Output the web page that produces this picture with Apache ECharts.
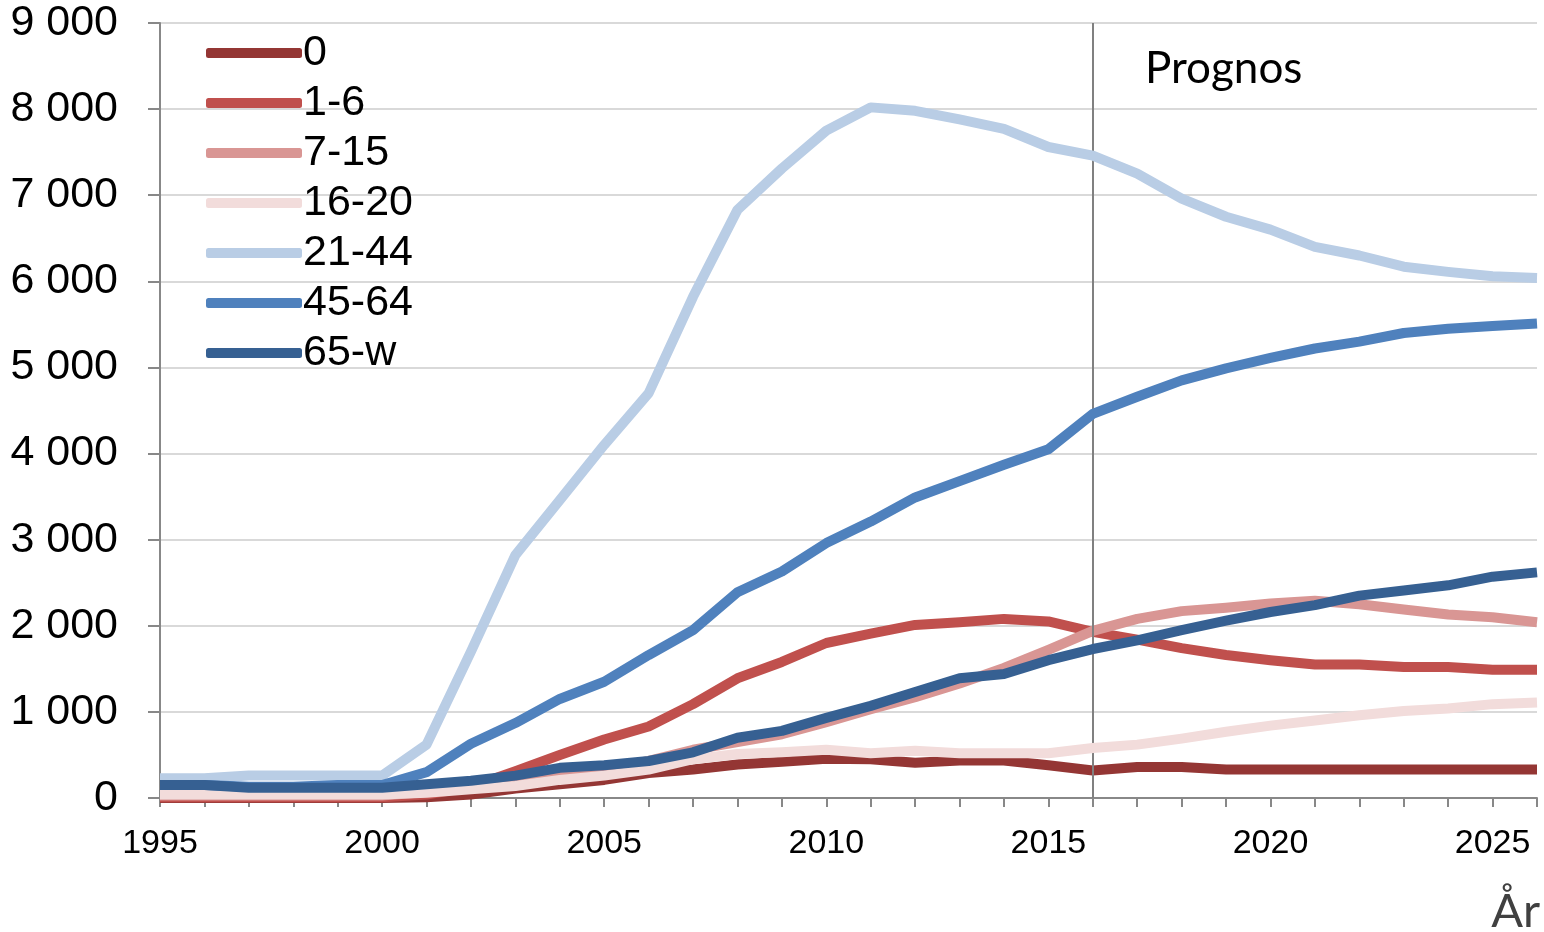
<!DOCTYPE html>
<html><head><meta charset="utf-8">
<script src="https://cdn.jsdelivr.net/npm/echarts@6/dist/echarts.min.js"></script>
<style>html,body{margin:0;padding:0;background:#fff}#c{width:1544px;height:932px}</style>
</head><body><div id="c"></div>
<script>
const years = [1995,1996,1997,1998,1999,2000,2001,2002,2003,2004,2005,2006,2007,2008,2009,2010,2011,2012,2013,2014,2015,2016,2017,2018,2019,2020,2021,2022,2023,2024,2025,2026];
const seriesNames = ['0','1-6','7-15','16-20','21-44','45-64','65-w'];
const s0    = [0,0,0,0,0,0,10,40,110,160,210,290,330,390,420,455,450,410,435,435,380,320,360,360,330,330,330,330,330,330,330,330];
const s1_6  = [10,10,10,10,10,10,40,130,310,500,680,830,1090,1390,1580,1800,1910,2010,2040,2080,2050,1930,1840,1740,1660,1600,1550,1550,1520,1520,1490,1490];
const s7_15 = [30,30,30,30,30,30,70,120,190,260,330,430,560,650,740,880,1030,1170,1330,1510,1720,1940,2080,2170,2210,2260,2290,2250,2190,2130,2100,2040];
const s16_20= [40,40,40,40,40,40,60,100,140,210,260,330,450,510,530,560,520,550,520,520,520,580,620,690,770,840,900,960,1010,1040,1090,1110];
const s21_44= [230,230,260,260,260,260,620,1700,2820,3460,4100,4700,5820,6830,7310,7750,8020,7980,7880,7770,7560,7460,7250,6960,6750,6600,6400,6300,6170,6110,6060,6040];
const s45_64= [150,150,130,130,150,150,300,630,870,1150,1350,1660,1950,2390,2630,2960,3210,3490,3680,3870,4050,4460,4660,4850,4990,5110,5220,5300,5400,5450,5480,5510];
const s65w  = [150,150,120,120,120,120,160,200,260,350,380,430,530,700,780,930,1070,1230,1390,1440,1600,1730,1830,1950,2060,2160,2240,2350,2410,2470,2570,2620];
const prognosYear = 2016;
const colors = ['#943634','#C0504D','#D99694','#F2DCDB','#B9CDE5','#4F81BD','#366092'];
const allData = [s0,s1_6,s7_15,s16_20,s21_44,s45_64,s65w];

const fmt = v => String(v).replace(/\B(?=(\d{3})+(?!\d))/g, ' ');
const chart = echarts.init(document.getElementById('c'));
const series = seriesNames.map((n,i)=>({
  name:n, type:'line', showSymbol:false, symbol:'none',
  data: years.map((y,k)=>[y, allData[i][k]]),
  lineStyle:{color:colors[i], width:10, join:'round'},
  itemStyle:{color:colors[i]},
  z: 2+i,
  animation:false,
  markLine: i===0 ? {silent:true, symbol:'none', label:{show:false},
    lineStyle:{color:'#808080', width:2, type:'solid'},
    data:[{xAxis: prognosYear}]} : undefined
}));
chart.setOption({
  animation:false,
  grid:{left:160, right:7, top:23, bottom:134},
  legend:{
    orient:'vertical', left:201, top:23, itemWidth:96, itemHeight:10, itemGap:0,
    icon:'roundRect',
    textStyle:{fontFamily:'Liberation Sans', fontSize:43, color:'#000', lineHeight:50, padding:[0,0,0,-4]},
    data: seriesNames
  },
  xAxis:{type:'value', min:1995, max:2026, interval:1,
    axisLine:{lineStyle:{color:'#888', width:2}},
    axisTick:{show:true, length:9, lineStyle:{color:'#888', width:2}},
    splitLine:{show:false},
    axisLabel:{fontFamily:'Liberation Sans', fontSize:34, color:'#000', margin:29,
      formatter:v=> (v%5===0 ? String(v) : '')}
  },
  yAxis:{type:'value', min:0, max:9000, interval:1000,
    axisLine:{show:true, lineStyle:{color:'#888', width:2}},
    axisTick:{show:true, length:12, lineStyle:{color:'#888', width:2}},
    splitLine:{lineStyle:{color:'#D9D9D9', width:2}},
    axisLabel:{fontFamily:'Liberation Sans', fontSize:43, color:'#000', margin:42, formatter:fmt}
  },
  graphic:[
    {type:'text', left:1145, top:47, style:{text:'Prognos', font:'44px Lato', fill:'#000'}},
    {type:'text', right:4, top:888, style:{text:'År', font:'47px Lato', fill:'#404040'}}
  ],
  series
});
</script></body></html>
